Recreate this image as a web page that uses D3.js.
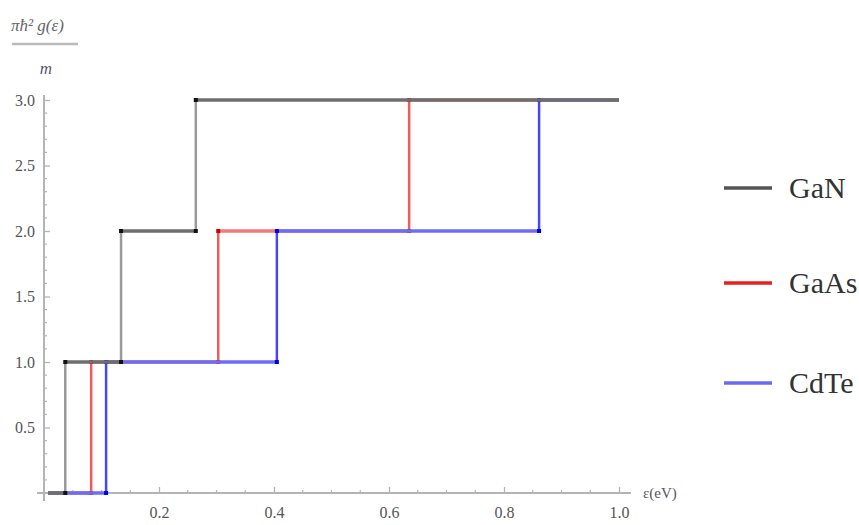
<!DOCTYPE html>
<html>
<head>
<meta charset="utf-8">
<script src="https://cdn.jsdelivr.net/npm/d3@7"></script>
<style>
  body { margin: 0; background: #fff; }
  text { font-family: "Liberation Serif", "DejaVu Serif", serif; }
</style>
</head>
<body>
<div id="chart"></div>
<script>
// step edges (eV) for each material, levels are the subband count
var levels = [0, 1, 2, 3];
var ganEdges  = [0.007, 0.037, 0.134, 0.264, 1.0];
var gaasEdges = [0.007, 0.082, 0.303, 0.635, 1.0];
var cdteEdges = [0.007, 0.108, 0.405, 0.861, 1.0];

var xMajor = [0.2, 0.4, 0.6, 0.8, 1.0];
var xMinor = [0.05, 0.1, 0.15, 0.25, 0.3, 0.35, 0.45, 0.5, 0.55, 0.65, 0.7, 0.75, 0.85, 0.9, 0.95];
var yMajor = [0.5, 1.0, 1.5, 2.0, 2.5, 3.0];
var yMinor = [0.1, 0.2, 0.3, 0.4, 0.6, 0.7, 0.8, 0.9, 1.1, 1.2, 1.3, 1.4, 1.6, 1.7, 1.8, 1.9,
              2.1, 2.2, 2.3, 2.4, 2.6, 2.7, 2.8, 2.9];

var legendNames = ["GaN", "GaAs", "CdTe"];

var w = 859, h = 525;
var serif = "'Liberation Serif', 'DejaVu Serif', serif";

var svg = d3.select("#chart").append("svg")
    .attr("width", w)
    .attr("height", h);

var x = d3.scaleLinear().domain([0, 1]).range([44, 619]);
var y = d3.scaleLinear().domain([0, 3]).range([493, 100]);

var axisColor = "#b4b4b4";

// axes
var xAxis = svg.append("g")
    .attr("transform", "translate(0," + y(0) + ")")
    .call(d3.axisBottom(x).tickValues(xMajor).tickSizeInner(-6).tickSizeOuter(0)
          .tickPadding(14).tickFormat(d3.format(".1f")));
xAxis.attr("font-family", serif);
xAxis.select(".domain").remove();
xAxis.selectAll(".tick line").attr("stroke", axisColor).attr("stroke-width", 1.3);
xAxis.selectAll("text").attr("fill", "#555")
    .style("font-family", serif).style("font-size", "16px");

svg.append("g").selectAll("line")
    .data(xMinor).enter().append("line")
    .attr("x1", function(d) { return x(d); })
    .attr("x2", function(d) { return x(d); })
    .attr("y1", y(0)).attr("y2", y(0) - 3)
    .attr("stroke", axisColor).attr("stroke-width", 1.2);

var yAxis = svg.append("g")
    .attr("transform", "translate(" + x(0) + ",0)")
    .call(d3.axisLeft(y).tickValues(yMajor).tickSizeInner(-6).tickSizeOuter(0)
          .tickPadding(9).tickFormat(d3.format(".1f")));
yAxis.attr("font-family", serif);
yAxis.select(".domain").remove();
yAxis.selectAll(".tick line").attr("stroke", axisColor).attr("stroke-width", 1.3);
yAxis.selectAll("text").attr("fill", "#555")
    .style("font-family", serif).style("font-size", "16px");

svg.append("g").selectAll("line")
    .data(yMinor).enter().append("line")
    .attr("x1", x(0)).attr("x2", x(0) + 3)
    .attr("y1", function(d) { return y(d); })
    .attr("y2", function(d) { return y(d); })
    .attr("stroke", axisColor).attr("stroke-width", 1.2);

svg.append("line")
    .attr("x1", x(0) - 7).attr("x2", x(1) + 12)
    .attr("y1", y(0)).attr("y2", y(0))
    .attr("stroke", axisColor).attr("stroke-width", 2);
svg.append("line")
    .attr("x1", x(0)).attr("x2", x(0))
    .attr("y1", y(0) + 8).attr("y2", y(3) - 5)
    .attr("stroke", axisColor).attr("stroke-width", 2);

// axis labels
svg.append("text")
    .attr("x", 11).attr("y", 31)
    .style("font-size", "17px").style("font-style", "italic").attr("fill", "#666")
    .text("\u03c0\u0127\u00b2 g(\u03b5)");
svg.append("line")
    .attr("x1", 12).attr("x2", 78).attr("y1", 44).attr("y2", 44)
    .attr("stroke", "#bbb").attr("stroke-width", 2.5);
svg.append("text")
    .attr("x", 46).attr("y", 74).attr("text-anchor", "middle")
    .style("font-size", "17px").style("font-style", "italic").attr("fill", "#557")
    .text("m");
svg.append("text")
    .attr("x", 643).attr("y", 498)
    .style("font-size", "15px").attr("fill", "#556")
    .text("\u03b5(eV)");

// step series
function drawSeries(edges, hColor, vColor, dotColor, hWidth) {
  var g = svg.append("g");
  var segs = levels.map(function(l, i) { return {x0: edges[i], x1: edges[i + 1], l: l}; });
  var rises = levels.slice(1).map(function(l, i) { return {x: edges[i + 1], l0: levels[i], l1: l}; });

  g.selectAll("line.h").data(segs).enter().append("line")
      .attr("class", "h")
      .attr("x1", function(d) { return x(d.x0); })
      .attr("x2", function(d) { return x(d.x1); })
      .attr("y1", function(d) { return y(d.l); })
      .attr("y2", function(d) { return y(d.l); })
      .attr("stroke", hColor).attr("stroke-width", hWidth);

  g.selectAll("line.v").data(rises).enter().append("line")
      .attr("class", "v")
      .attr("x1", function(d) { return x(d.x); })
      .attr("x2", function(d) { return x(d.x); })
      .attr("y1", function(d) { return y(d.l0); })
      .attr("y2", function(d) { return y(d.l1); })
      .attr("stroke", vColor).attr("stroke-width", 2.5);

  var pts = [];
  rises.forEach(function(d) { pts.push([d.x, d.l0]); pts.push([d.x, d.l1]); });
  g.selectAll("rect").data(pts).enter().append("rect")
      .attr("x", function(d) { return x(d[0]) - 2; })
      .attr("y", function(d) { return y(d[1]) - 2; })
      .attr("width", 4).attr("height", 4)
      .attr("fill", dotColor);
}

drawSeries(gaasEdges, "#f27a7a", "#f05a5a", "#d00000", 3.5);
drawSeries(cdteEdges, "#6c6cf4", "#4646f8", "#0000e0", 3.5);
drawSeries(ganEdges, "#6e6e6e", "#9a9a9a", "#111", 3.5);

// legend
var legendColors = ["#555", "#e82020", "#6a6af0"];
var legendY = [188, 283, 383];

var lg = svg.append("g").selectAll("g")
    .data(legendNames).enter().append("g")
    .attr("transform", function(d, i) { return "translate(0," + legendY[i] + ")"; });
lg.append("line")
    .attr("x1", 724).attr("x2", 772)
    .attr("stroke", function(d, i) { return legendColors[i]; })
    .attr("stroke-width", 3.5);
lg.append("text")
    .attr("x", 789).attr("y", 10)
    .style("font-size", "30px").attr("fill", "#333")
    .text(function(d) { return d; });
</script>
</body>
</html>
